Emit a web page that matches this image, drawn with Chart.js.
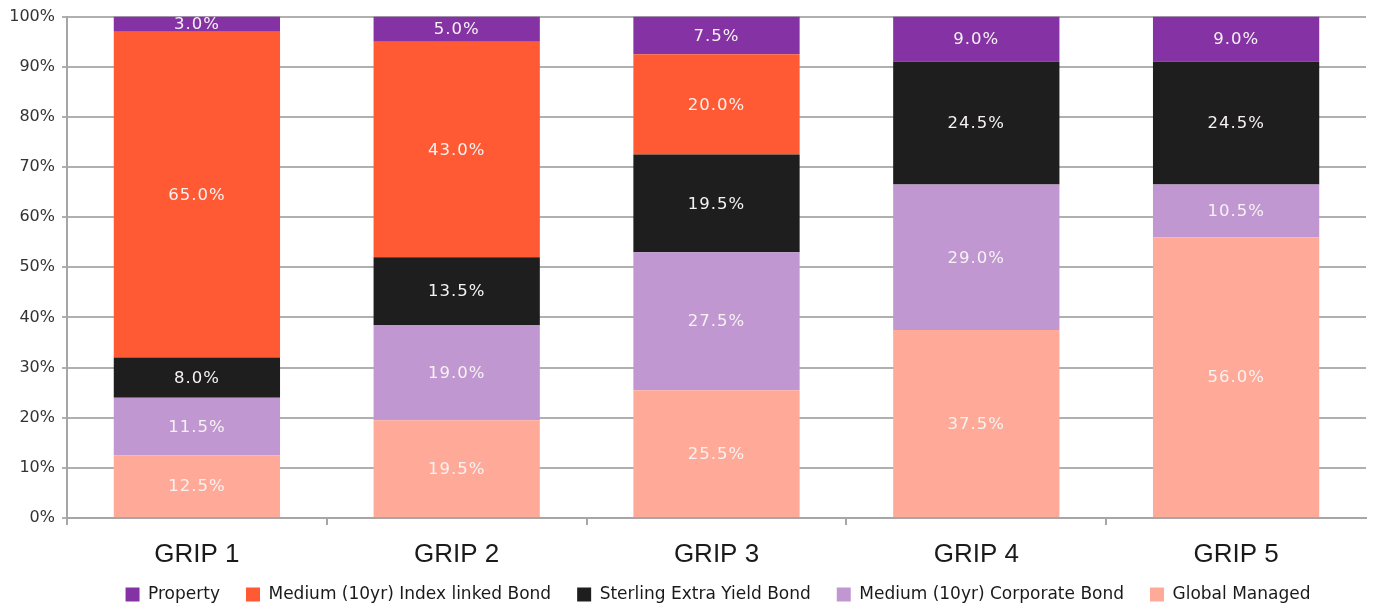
<!DOCTYPE html>
<html>
<head>
<meta charset="utf-8">
<script src="https://cdn.jsdelivr.net/npm/chart.js@4/dist/chart.umd.min.js"></script>
<style>
html,body{margin:0;padding:0;background:#fff;}
#wrap{width:1374px;height:605px;position:relative;}
</style>
</head>
<body>
<div id="wrap"><canvas id="c" width="1374" height="605"></canvas></div>
<script>
const categories = ["GRIP 1", "GRIP 2", "GRIP 3", "GRIP 4", "GRIP 5"];
const globalManaged = [12.5, 19.5, 25.5, 37.5, 56.0];
const corporateBond = [11.5, 19.0, 27.5, 29.0, 10.5];
const sterlingBond = [8.0, 13.5, 19.5, 24.5, 24.5];
const indexLinkedBond = [65.0, 43.0, 20.0, 0, 0];
const property = [3.0, 5.0, 7.5, 9.0, 9.0];
const yTicks = [0, 10, 20, 30, 40, 50, 60, 70, 80, 90, 100];

const SANS = "'Liberation Sans', Arial, sans-serif";
const WIDE = "'DejaVu Sans', sans-serif";

const labelPlugin = {
  id: 'barLabels',
  afterDatasetsDraw(chart) {
    const ctx = chart.ctx;
    ctx.save();
    ctx.font = "16.5px " + WIDE;
    ctx.letterSpacing = "1px";
    ctx.fillStyle = "#f6f2f2";
    ctx.textAlign = "center";
    ctx.textBaseline = "middle";
    chart.data.datasets.forEach((ds, i) => {
      const meta = chart.getDatasetMeta(i);
      meta.data.forEach((el, j) => {
        const v = ds.data[j];
        if (!v) return;
        ctx.fillText(v.toFixed(1) + "%", el.x, (el.y + el.base) / 2 + 1);
      });
    });
    ctx.restore();
  }
};

const legendShift = {
  id: 'legendShift',
  afterLayout(chart) {
    const l = chart.legend;
    if (!l) return;
    l.top -= 8; l.bottom -= 8;
    l.left += 35; l.right += 35;
  }
};

new Chart(document.getElementById('c'), {
  type: 'bar',
  data: {
    labels: categories,
    datasets: [
      {label: "Global Managed", data: globalManaged, backgroundColor: "#FFAA99"},
      {label: "Medium (10yr) Corporate Bond", data: corporateBond, backgroundColor: "#C197D2"},
      {label: "Sterling Extra Yield Bond", data: sterlingBond, backgroundColor: "#1E1E1E"},
      {label: "Medium (10yr) Index linked Bond", data: indexLinkedBond, backgroundColor: "#FF5A33"},
      {label: "Property", data: property, backgroundColor: "#8533A4"}
    ]
  },
  options: {
    responsive: false,
    animation: false,
    layout: {padding: {top: 8, right: 8, left: 0, bottom: -16}},
    datasets: {bar: {barPercentage: 0.64, categoryPercentage: 1.0, borderWidth: 0}},
    scales: {
      x: {
        stacked: true,
        grid: {
          offset: true,
          drawOnChartArea: false,
          tickLength: 7,
          lineWidth: 2,
          color: (c) => (c.index === undefined ? 'rgba(0,0,0,0)' : '#a6a6a6')
        },
        border: {color: '#a6a6a6', width: 2},
        ticks: {font: {family: SANS, size: 26}, color: '#1a1a1a', padding: 14},
        afterFit(scale) { scale.height = 50; }
      },
      y: {
        stacked: true,
        min: 0, max: 100,
        afterBuildTicks(scale) { scale.ticks = yTicks.map(v => ({value: v})); },
        grid: {color: '#b0b0b0', lineWidth: 2, tickLength: 5},
        border: {color: '#a6a6a6', width: 2},
        ticks: {font: {family: WIDE, size: 16}, color: '#333', padding: 7, callback: v => v + '%'},
        afterFit(scale) { scale.width = 67; }
      }
    },
    plugins: {
      tooltip: {enabled: false},
      legend: {
        position: 'bottom',
        reverse: true,
        labels: {
          font: {family: WIDE, size: 17},
          color: '#1a1a1a',
          boxWidth: 14, boxHeight: 14,
          padding: 26
        }
      }
    }
  },
  plugins: [labelPlugin, legendShift]
});
</script>
</body>
</html>
